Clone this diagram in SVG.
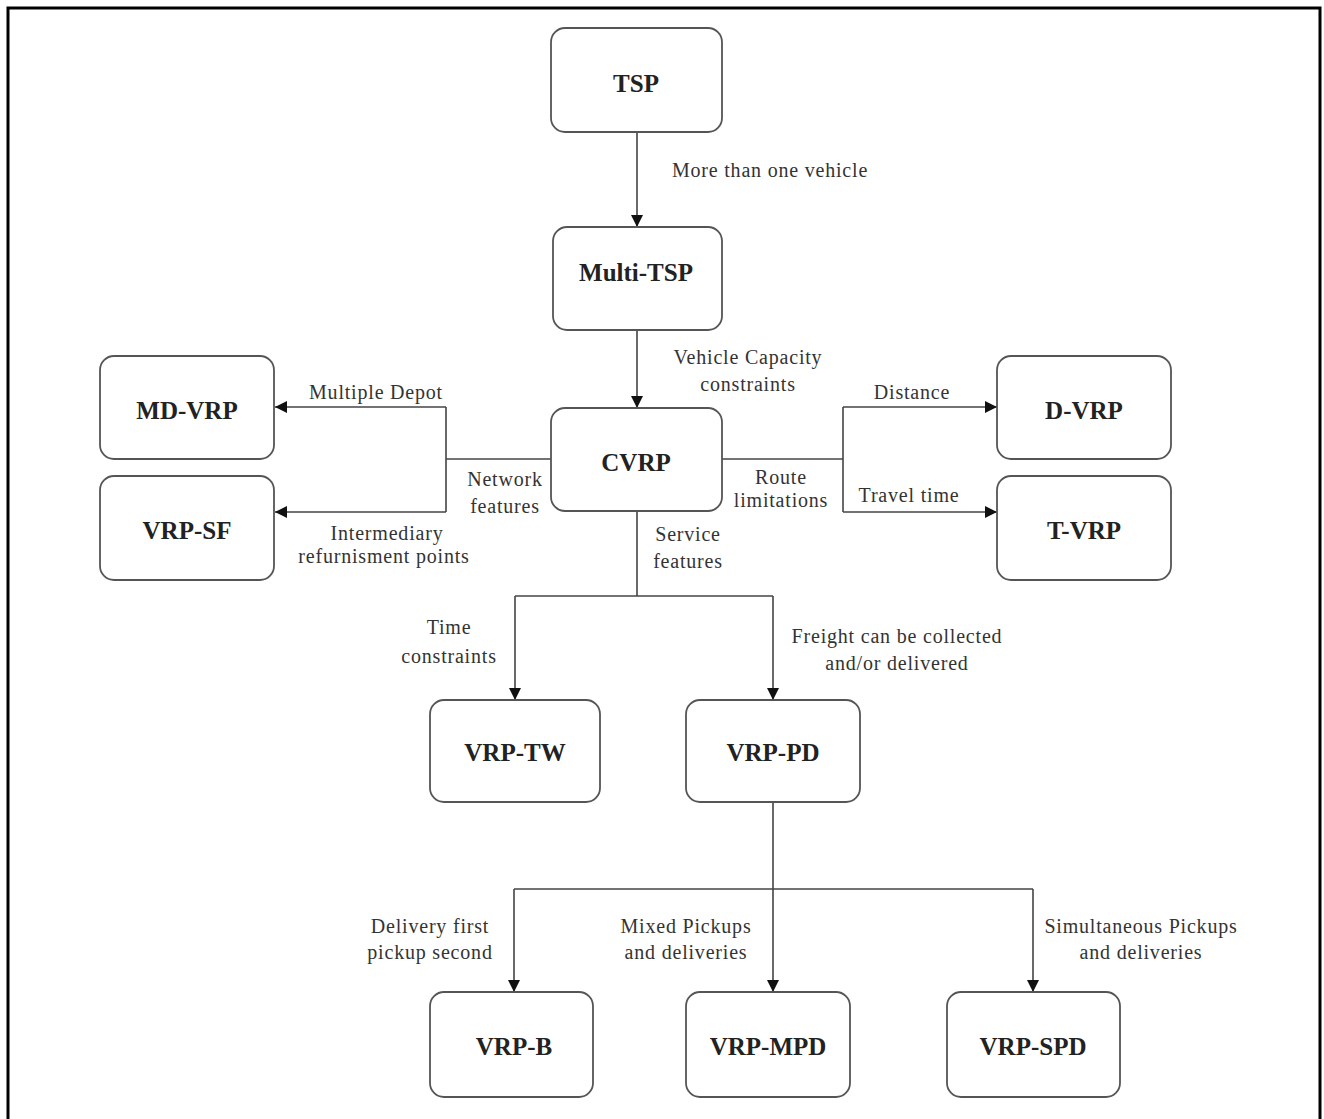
<svg xmlns="http://www.w3.org/2000/svg" width="1324" height="1119" viewBox="0 0 1324 1119">
<defs>
<marker id="ah" viewBox="0 0 10 10" refX="10" refY="5" markerWidth="12" markerHeight="12" markerUnits="userSpaceOnUse" orient="auto">
<path d="M0,0 L10,5 L0,10 z" fill="#111"/>
</marker>
<style>
.box{fill:#fff;stroke:#555;stroke-width:1.8}
.nl{font-family:"Liberation Serif","Times New Roman",serif;font-weight:bold;font-size:25px;fill:#222;text-anchor:middle}
.el{font-family:"Liberation Serif","Times New Roman",serif;font-size:20px;letter-spacing:0.8px;fill:#333;text-anchor:middle}
.ln{fill:none;stroke:#444;stroke-width:1.6}
.arr{fill:none;stroke:#444;stroke-width:1.6;marker-end:url(#ah)}
</style>
</defs>
<rect width="1324" height="1119" fill="#fff"/>
<path d="M8,1125 L8,8 L1320,8 L1320,1125" fill="none" stroke="#000" stroke-width="3"/>

<g id="connectors">
<line class="arr" x1="637" y1="132" x2="637" y2="227"/>
<line class="arr" x1="637" y1="330" x2="637" y2="408"/>
<polyline class="ln" points="551,459 446,459"/>
<line class="ln" x1="446" y1="407" x2="446" y2="512"/>
<line class="arr" x1="446" y1="407" x2="275" y2="407"/>
<line class="arr" x1="446" y1="512" x2="275" y2="512"/>
<polyline class="ln" points="722,459 843,459"/>
<line class="ln" x1="843" y1="407" x2="843" y2="512"/>
<line class="arr" x1="843" y1="407" x2="997" y2="407"/>
<line class="arr" x1="843" y1="512" x2="997" y2="512"/>
<line class="ln" x1="637" y1="511" x2="637" y2="596"/>
<line class="ln" x1="515" y1="596" x2="773" y2="596"/>
<line class="arr" x1="515" y1="596" x2="515" y2="700"/>
<line class="arr" x1="773" y1="596" x2="773" y2="700"/>
<line class="ln" x1="773" y1="802" x2="773" y2="889"/>
<line class="ln" x1="514" y1="889" x2="1033" y2="889"/>
<line class="arr" x1="514" y1="889" x2="514" y2="992"/>
<line class="arr" x1="773" y1="889" x2="773" y2="992"/>
<line class="arr" x1="1033" y1="889" x2="1033" y2="992"/>

<text class="el" x="770" y="177">More than one vehicle</text>
<text class="el" x="748" y="364">Vehicle Capacity</text>
<text class="el" x="748" y="391">constraints</text>
<text class="el" x="376" y="399">Multiple Depot</text>
<text class="el" x="505" y="486">Network</text>
<text class="el" x="505" y="513">features</text>
<text class="el" x="387" y="540">Intermediary</text>
<text class="el" x="384" y="563">refurnisment points</text>
<text class="el" x="912" y="399">Distance</text>
<text class="el" x="781" y="484">Route</text>
<text class="el" x="781" y="507">limitations</text>
<text class="el" x="909" y="502">Travel time</text>
<text class="el" x="688" y="541">Service</text>
<text class="el" x="688" y="568">features</text>
<text class="el" x="449" y="634">Time</text>
<text class="el" x="449" y="663">constraints</text>
<text class="el" x="897" y="643">Freight can be collected</text>
<text class="el" x="897" y="670">and/or delivered</text>
<text class="el" x="430" y="933">Delivery first</text>
<text class="el" x="430" y="959">pickup second</text>
<text class="el" x="686" y="933">Mixed Pickups</text>
<text class="el" x="686" y="959">and deliveries</text>
<text class="el" x="1141" y="933">Simultaneous Pickups</text>
<text class="el" x="1141" y="959">and deliveries</text>
</g>

<g id="n-tsp"><rect class="box" x="551" y="28" width="171" height="104" rx="14"/><text class="nl" x="636" y="92">TSP</text></g>
<g id="n-multitsp"><rect class="box" x="553" y="227" width="169" height="103" rx="14"/><text class="nl" x="636" y="281">Multi-TSP</text></g>
<g id="n-cvrp"><rect class="box" x="551" y="408" width="171" height="103" rx="14"/><text class="nl" x="636" y="471">CVRP</text></g>
<g id="n-mdvrp"><rect class="box" x="100" y="356" width="174" height="103" rx="14"/><text class="nl" x="187" y="419">MD-VRP</text></g>
<g id="n-vrpsf"><rect class="box" x="100" y="476" width="174" height="104" rx="14"/><text class="nl" x="187" y="539">VRP-SF</text></g>
<g id="n-dvrp"><rect class="box" x="997" y="356" width="174" height="103" rx="14"/><text class="nl" x="1084" y="419">D-VRP</text></g>
<g id="n-tvrp"><rect class="box" x="997" y="476" width="174" height="104" rx="14"/><text class="nl" x="1084" y="539">T-VRP</text></g>
<g id="n-vrptw"><rect class="box" x="430" y="700" width="170" height="102" rx="14"/><text class="nl" x="515" y="761">VRP-TW</text></g>
<g id="n-vrppd"><rect class="box" x="686" y="700" width="174" height="102" rx="14"/><text class="nl" x="773" y="761">VRP-PD</text></g>
<g id="n-vrpb"><rect class="box" x="430" y="992" width="163" height="105" rx="14"/><text class="nl" x="514" y="1055">VRP-B</text></g>
<g id="n-vrpmpd"><rect class="box" x="686" y="992" width="164" height="105" rx="14"/><text class="nl" x="768" y="1055">VRP-MPD</text></g>
<g id="n-vrpspd"><rect class="box" x="947" y="992" width="173" height="105" rx="14"/><text class="nl" x="1033" y="1055">VRP-SPD</text></g>
</svg>
